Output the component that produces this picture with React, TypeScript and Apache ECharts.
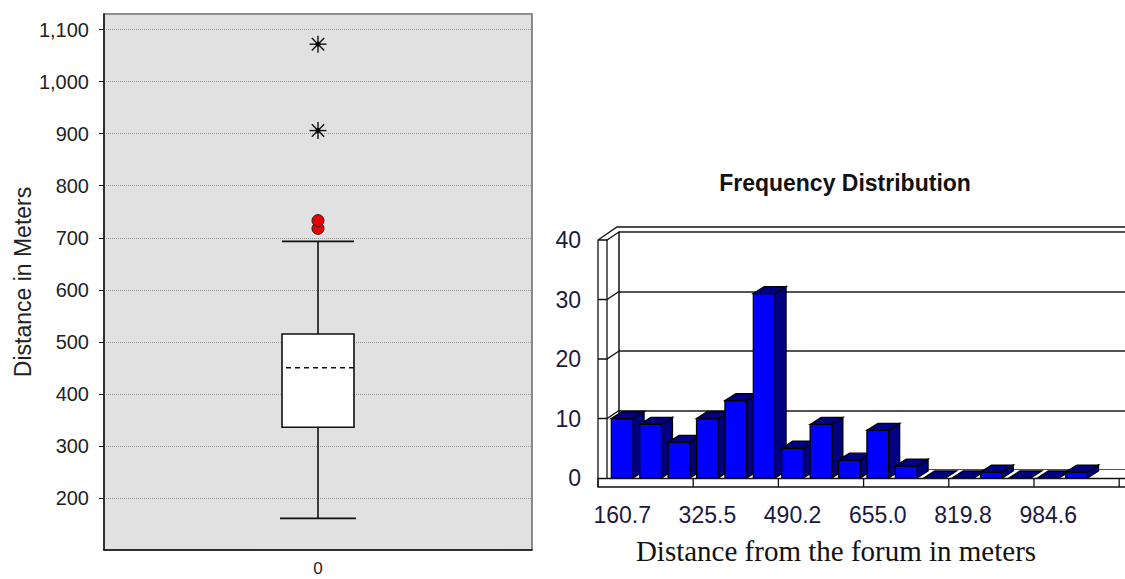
import React, { useEffect, useRef } from "react";
import * as echarts from "echarts";

// ---------- Box plot data (left) ----------
const boxCategories = ["0"];
// [lower whisker, Q1, median, Q3, upper whisker]
const boxStats = [160.7, 336, 450, 515, 693];
const mildOutliers = [718, 733];
const extremeOutliers = [906, 1072];

// ---------- Histogram data (right) ----------
const binStarts = [
  "160.7", "215.6", "270.6", "325.5", "380.4", "435.3", "490.2", "545.1", "600.1",
  "655.0", "709.9", "764.8", "819.8", "874.7", "929.6", "984.6", "1039.5", "",
];
const frequencies = [10, 9, 6, 10, 13, 31, 5, 9, 3, 8, 2, 0, 0, 1, 0, 0, 1];
const freqTicks = [0, 10, 20, 30, 40];

const SANS = "'Liberation Sans', Arial, sans-serif";
const SERIF = "'Liberation Serif', 'Times New Roman', serif";

// layout
const FRONT_LEFT = 608;
const FRONT_TOP = 240;
const FRONT_H = 238;
const CAT_W = 28.4;
const HIST_W = CAT_W * binStarts.length;
const WALL_DX = 11;
const WALL_DY = -8;
const BAR_DX = 11;
const BAR_DY = -7;
const LABEL_EVERY = 3;

export default function App() {
  const ref = useRef<HTMLDivElement>(null);

  useEffect(() => {
    document.body.style.margin = "0";
    if (!ref.current) return;
    const chart = echarts.init(ref.current, undefined, { renderer: "svg" });

    const option: any = {
      animation: false,
      backgroundColor: "#ffffff",
      grid: [
        {
          left: 104, top: 14, width: 428, height: 536, outerBoundsMode: "none", containLabel: false,
          show: true, backgroundColor: "#e1e1e1", borderColor: "#6a6a6a", borderWidth: 1.5,
        },
        {
          left: FRONT_LEFT, top: FRONT_TOP, width: HIST_W, height: FRONT_H,
          outerBoundsMode: "none", containLabel: false,
        },
        {
          left: FRONT_LEFT + WALL_DX, top: FRONT_TOP + WALL_DY, width: 1125 - FRONT_LEFT - WALL_DX, height: FRONT_H,
          outerBoundsMode: "none", containLabel: false,
        },
      ],
      xAxis: [
        {
          gridIndex: 0, type: "category", data: boxCategories,
          axisLine: { lineStyle: { color: "#111", width: 1.5 } },
          axisTick: { alignWithLabel: true, length: 7, lineStyle: { color: "#111", width: 1.5 } },
          axisLabel: { fontSize: 17, color: "#222", fontFamily: SANS, margin: 10, lineHeight: 17 },
        },
        {
          gridIndex: 1, type: "category", data: binStarts,
          axisLine: { show: false },
          axisTick: { show: false },
          axisLabel: { interval: LABEL_EVERY - 1, fontSize: 23, color: "#1a1a40", fontFamily: SANS, margin: 25 },
        },
        { gridIndex: 2, type: "category", data: binStarts, show: false },
      ],
      yAxis: [
        {
          gridIndex: 0, type: "value", min: 100, max: 1130, interval: 100,
          name: "Distance in Meters", nameLocation: "middle", nameGap: 70, nameRotate: 90,
          nameTextStyle: { fontSize: 23, color: "#222", fontFamily: SANS },
          axisLine: { show: true, lineStyle: { color: "#111", width: 1.5 } },
          axisTick: { show: true, length: 5, lineStyle: { color: "#111" } },
          axisLabel: {
            fontSize: 20, color: "#222", fontFamily: SANS, margin: 15,
            showMinLabel: false, showMaxLabel: false,
            formatter: (v: number) => v.toLocaleString("en-US"),
          },
          splitLine: { show: true, lineStyle: { type: "dotted", color: "#9a9a9a", width: 1 } },
        },
        {
          gridIndex: 1, type: "value", min: freqTicks[0], max: freqTicks[freqTicks.length - 1], interval: 10,
          axisLine: { show: false }, axisTick: { show: false }, splitLine: { show: false },
          axisLabel: { fontSize: 23, color: "#1a1a40", fontFamily: SANS, margin: 27 },
        },
        {
          gridIndex: 2, type: "value", min: freqTicks[0], max: freqTicks[freqTicks.length - 1], interval: 10,
          axisLine: { show: true, lineStyle: { color: "#111", width: 1.5 } },
          axisTick: { show: false }, axisLabel: { show: false },
          splitLine: { show: true, lineStyle: { color: "#1a1a1a", width: 1.5 } },
        },
      ],
      series: [
        {
          type: "custom", xAxisIndex: 0, yAxisIndex: 0, z: 3,
          data: [[0, ...boxStats]],
          renderItem: (params: any, api: any) => {
            const lo = api.coord([0, api.value(1)]);
            const q1 = api.coord([0, api.value(2)]);
            const med = api.coord([0, api.value(3)]);
            const q3 = api.coord([0, api.value(4)]);
            const hi = api.coord([0, api.value(5)]);
            const cx = lo[0];
            const hw = 36;
            const st = { stroke: "#111", lineWidth: 1.6 };
            return {
              type: "group",
              children: [
                { type: "line", shape: { x1: cx, y1: lo[1], x2: cx, y2: q1[1] }, style: st },
                { type: "line", shape: { x1: cx, y1: q3[1], x2: cx, y2: hi[1] }, style: st },
                { type: "line", shape: { x1: cx - hw - 2, y1: lo[1], x2: cx + hw + 2, y2: lo[1] }, style: st },
                { type: "line", shape: { x1: cx - hw, y1: hi[1], x2: cx + hw, y2: hi[1] }, style: st },
                { type: "rect", shape: { x: cx - hw, y: q3[1], width: hw * 2, height: q1[1] - q3[1] }, style: { fill: "#fff", stroke: "#111", lineWidth: 1.6 } },
                { type: "line", shape: { x1: cx - hw + 4, y1: med[1], x2: cx + hw, y2: med[1] }, style: { stroke: "#111", lineWidth: 1.5, lineDash: [5, 4] } },
              ],
            };
          },
        },
        {
          type: "custom", xAxisIndex: 0, yAxisIndex: 0, z: 4,
          data: extremeOutliers.map((v) => [0, v]),
          renderItem: (params: any, api: any) => {
            const p = api.coord([api.value(0), api.value(1)]);
            const r = 8.5;
            const d = 6.2;
            const st = { stroke: "#111", lineWidth: 1.4 };
            return {
              type: "group",
              children: [
                { type: "line", shape: { x1: p[0], y1: p[1] - r, x2: p[0], y2: p[1] + r }, style: st },
                { type: "line", shape: { x1: p[0] - r, y1: p[1], x2: p[0] + r, y2: p[1] }, style: st },
                { type: "line", shape: { x1: p[0] - d, y1: p[1] - d, x2: p[0] + d, y2: p[1] + d }, style: st },
                { type: "line", shape: { x1: p[0] - d, y1: p[1] + d, x2: p[0] + d, y2: p[1] - d }, style: st },
                { type: "circle", shape: { cx: p[0], cy: p[1], r: 2.5 }, style: { fill: "#000" } },
              ],
            };
          },
        },
        {
          type: "scatter", xAxisIndex: 0, yAxisIndex: 0, z: 5,
          data: mildOutliers.map((v) => [0, v]),
          symbol: "circle", symbolSize: 12,
          itemStyle: { color: "#e60000", borderColor: "#222", borderWidth: 1, opacity: 1 },
        },
        {
          type: "custom", xAxisIndex: 1, yAxisIndex: 1, z: 5,
          data: frequencies.map((v, i) => [i, v]),
          renderItem: (params: any, api: any) => {
            const i = api.value(0);
            const v = api.value(1);
            const top = api.coord([i, v]);
            const base = api.coord([i, 0]);
            const bw = api.size([1, 0])[0] * 0.765;
            const x0 = top[0] - bw / 2;
            const x1 = x0 + bw;
            const t = top[1];
            const b = base[1];
            const dark = { fill: "#000080", stroke: "#000", lineWidth: 1.3 };
            const children: any[] = [];
            if (v > 0) {
              children.push({
                type: "polygon",
                shape: { points: [[x1, t], [x1 + BAR_DX, t + BAR_DY], [x1 + BAR_DX, b + BAR_DY], [x1, b]] },
                style: dark,
              });
              children.push({
                type: "rect",
                shape: { x: x0, y: t, width: bw, height: b - t },
                style: { fill: "#0000ff", stroke: "#000", lineWidth: 1.3 },
              });
            }
            children.push({
              type: "polygon",
              shape: { points: [[x0, t], [x0 + BAR_DX, t + BAR_DY], [x1 + BAR_DX, t + BAR_DY], [x1, t]] },
              style: dark,
            });
            return { type: "group", children };
          },
        },
      ],
      graphic: [
        {
          type: "text", x: 845, y: 183, z: 10,
          style: {
            text: "Frequency Distribution", fontSize: 23, fontWeight: "bold", fontFamily: SANS,
            fill: "#111", align: "center", verticalAlign: "middle",
          },
        },
        {
          type: "text", x: 836, y: 551, z: 10,
          style: {
            text: "Distance from the forum in meters", fontSize: 29, fontFamily: SERIF,
            fill: "#111", align: "center", verticalAlign: "middle",
          },
        },
      ],
    };

    chart.setOption(option);

    // frame of the 3D histogram, positioned from the axes
    const fy = (v: number) => chart.convertToPixel({ yAxisIndex: 1 }, v) as number;
    const by = (v: number) => chart.convertToPixel({ yAxisIndex: 2 }, v) as number;
    const fx = (i: number) => chart.convertToPixel({ xAxisIndex: 1 }, i) as number;
    const wl = FRONT_LEFT - 10; // wall front-left
    const wr = FRONT_LEFT - 1; // wall front-right
    const bl = FRONT_LEFT + WALL_DX; // back wall left
    const far = 1200;
    const f0 = fy(0);
    const f40 = fy(40);
    const b0 = by(0);
    const b40 = by(40);
    const ln = { stroke: "#111", lineWidth: 1.3, fill: null };
    const frame: any[] = [
      {
        type: "polygon", z: 1, silent: true,
        shape: { points: [[wr, f0], [bl, b0], [far, b0], [far, f0]] },
        style: { fill: "#fff" },
      },
      {
        type: "polyline", z: 6, silent: true,
        shape: { points: [[wl, f0 + 9], [wl, f40], [bl - 2, b40 - 5], [far, b40 - 5]] },
        style: ln,
      },
      {
        type: "polyline", z: 6, silent: true,
        shape: { points: [[wl, f40], [wr, f40], [bl, b40]] },
        style: ln,
      },
      {
        type: "polyline", z: 6, silent: true,
        shape: { points: [[wr, f40], [wr, f0]] },
        style: ln,
      },
      {
        type: "rect", z: 6, silent: true,
        shape: { x: wl, y: f0 + 0.5, width: far - wl, height: 8.5 },
        style: { fill: null, stroke: "#111", lineWidth: 1.3 },
      },
    ];
    [10, 20, 30].forEach((v) => {
      frame.push({
        type: "polyline", z: 6, silent: true,
        shape: { points: [[wl, fy(v)], [wr, fy(v)], [bl, by(v)]] },
        style: ln,
      });
    });
    // floor ticks at the boundary before every labelled bin (and at the end)
    const half = (fx(1) - fx(0)) / 2;
    for (let i = LABEL_EVERY; i <= binStarts.length; i += LABEL_EVERY) {
      const x = fx(i - 1) + half;
      frame.push({
        type: "line", z: 6, silent: true,
        shape: { x1: x, y1: f0 + 0.5, x2: x, y2: f0 + 9 },
        style: { stroke: "#111", lineWidth: 1.3 },
      });
    }
    chart.setOption({ graphic: [...option.graphic, ...frame] }, { replaceMerge: ["graphic"] });

    return () => chart.dispose();
  }, []);

  return <div ref={ref} style={{ width: 1125, height: 579 }} />;
}
